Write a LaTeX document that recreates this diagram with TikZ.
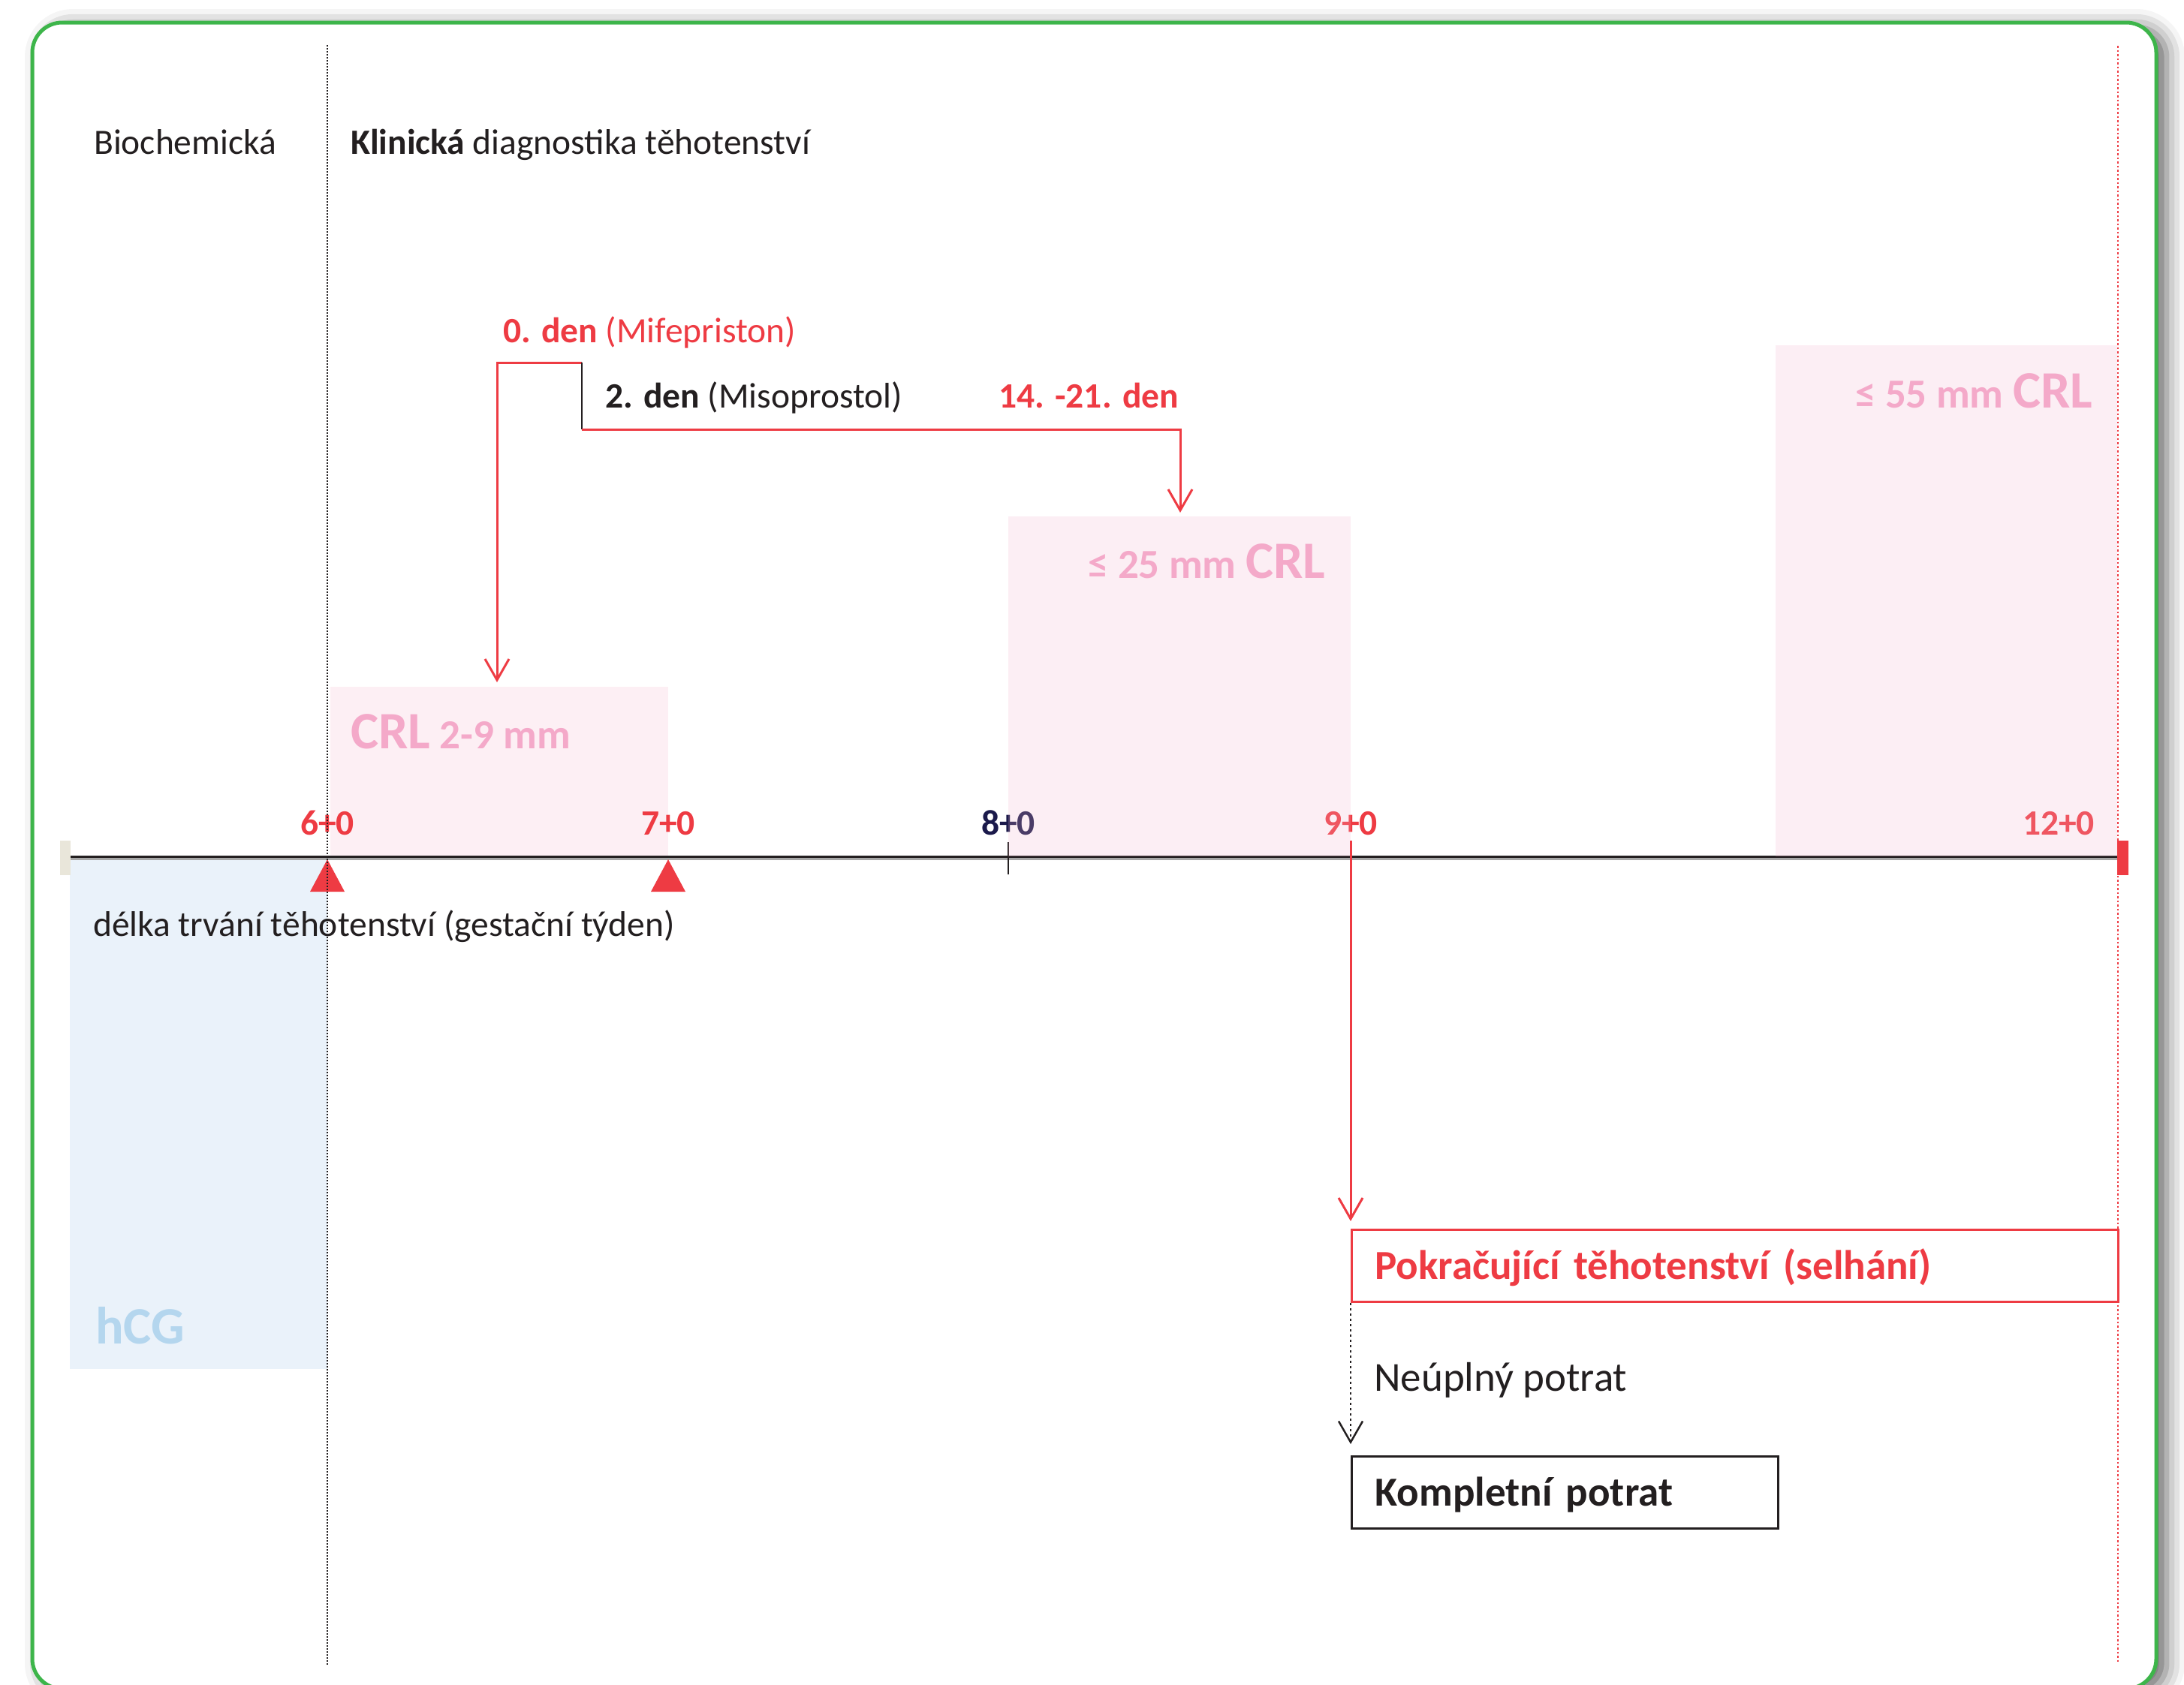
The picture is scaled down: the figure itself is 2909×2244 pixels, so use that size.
\documentclass[tikz,border=0pt]{standalone}
\usepackage{fontspec}
\setmainfont{Carlito}
\usetikzlibrary{arrows.meta,shadows.blur}
\definecolor{myred}{HTML}{EE3B43}
\definecolor{navy}{HTML}{1B1A4B}
\definecolor{txtblack}{HTML}{231F20}
\definecolor{pinkfill}{HTML}{FDEFF4}
\definecolor{pinkover}{RGB}{245,182,205}
\definecolor{pinktext}{HTML}{F4A9C9}
\definecolor{bluefill}{HTML}{EAF2FA}
\definecolor{bluetext}{HTML}{B4D6EE}
\definecolor{mygreen}{HTML}{3DB54A}
\definecolor{beige}{HTML}{E9E6DA}
\newcommand{\fsz}[1]{\fontsize{#1pt}{#1pt}\selectfont}
\tikzset{
  lbl/.style={inner sep=0pt, anchor=base west, text=txtblack, font=\fsz{47.5}},
  ticklbl/.style={inner sep=0pt, anchor=base, font=\bfseries\fsz{47.5}},
  crltext/.style={inner sep=0pt, anchor=base west, text=pinktext, font=\bfseries\fsz{55}},
  redline/.style={draw=myred, line width=3pt},
  redarrow/.style={redline, -{Straight Barb[length=28pt,width=32pt]}},
  pinkover box/.style={fill=pinkover, fill opacity=0.22, draw=none, inner sep=0pt, anchor=north west},
  outcome/.style={line width=3pt, anchor=north west, inner xsep=31pt, inner ysep=0pt,
     minimum height=96pt, text height=35pt, text depth=0pt, font=\bfseries\fsz{55}, align=left}
}
\begin{document}
\begin{tikzpicture}[x=1pt,y=-1pt]
\useasboundingbox (0,0) rectangle (2909,2244);
% frame with shadow
\path[fill=white, rounded corners=40pt,
  blur shadow={shadow xshift=14pt, shadow yshift=-6pt, shadow blur radius=24pt, shadow opacity=60}]
  (43,30) rectangle (2872,2250);
\draw[mygreen, line width=5pt, rounded corners=40pt] (43,30) rectangle (2872,2250);

% background boxes
\node[fill=bluefill, inner sep=0pt, anchor=north west, minimum width=343pt, minimum height=680pt] (hcgbox) at (93,1144) {};
\node[fill=pinkfill, inner sep=0pt, anchor=north west, minimum width=450pt, minimum height=226pt] (crlbox1) at (440,915) {};

% header texts
\node[lbl] (bio) at (125,205) {Biochemická};
\node[lbl] (klin) at (467,205) {\textbf{Klinická} diagnostika těhotenství};

% timeline
\node[fill=beige, inner sep=0pt, anchor=north west, minimum width=14pt, minimum height=46pt] (startbar) at (80,1120) {};
\node[fill=myred, inner sep=0pt, anchor=north west, minimum width=15pt, minimum height=46pt] (endbar) at (2820,1120) {};
\draw[black!35, line width=5pt] (startbar.east |- 0,1143.5) -- (endbar.west |- 0,1143.5);
\draw[txtblack, line width=3pt] (startbar.east |- 0,1141.5) -- (endbar.west |- 0,1141.5);
\draw[txtblack, line width=2.5pt] (1343,1122) -- (1343,1165);
\fill[myred] (436,1145) -- (413,1188) -- (459,1188) -- cycle;
\fill[myred] (890,1145) -- (867,1188) -- (913,1188) -- cycle;

% tick labels
\node[ticklbl, text=myred] (t6) at (436,1112) {6+0};
\node[ticklbl, text=myred] (t7) at (890,1112) {7+0};
\node[ticklbl, text=navy] (t8) at (1343,1112) {8+0};
\node[ticklbl, text=myred] (t9) at (1799,1112) {9+0};
\node[ticklbl, text=myred] (t12) at (2742,1112) {12+0};

\node[lbl] (delka) at (124,1247) {délka trvání těhotenství (gestační týden)};

% translucent pink boxes
\node[pinkover box, minimum width=456pt, minimum height=453pt] (crlbox2) at (1343,688) {};
\node[pinkover box, minimum width=455pt, minimum height=681pt] (crlbox3) at (2365,460) {};

% box texts
\node[crltext] (crl1) at (467,997) {{\fsz{70}CRL} 2-9 mm};
\node[crltext] (crl2) at (1449,770) {≤ 25 mm {\fsz{70}CRL}};
\node[crltext] (crl3) at (2471,543) {≤ 55 mm {\fsz{70}CRL}};
\node[inner sep=0pt, anchor=base west, text=bluetext, font=\bfseries\fsz{70}] (hcg) at (127,1790) {hCG};

% dotted verticals
\draw[txtblack, line width=2.2pt, dash pattern=on 2pt off 2pt] (436,60) -- (436,2218);
\draw[myred, line width=2.5pt, dash pattern=on 2.5pt off 3pt] (2821,61) -- (2821,2216);

% dosing labels
\node[lbl, text=myred] (d0) at (670,456) {\textbf{0. den} (Mifepriston)};
\node[lbl] (d2) at (806,543) {\textbf{2. den} (Misoprostol)};
\node[lbl, text=myred, font=\bfseries\fsz{47.5}] (d14) at (1330,543) {14. -21. den};

% bracket and arrows
\coordinate (b0) at (662,483);
\coordinate (b2) at (775,483);
\coordinate (b2low) at (775,572);
\coordinate (tip0) at (662,909);
\coordinate (tip14) at (1572,683);
\draw[redarrow] (b2) -- (b0) -- (tip0);
\draw[txtblack, line width=2.5pt] (b2) -- (b2low);
\draw[redarrow] (b2low) -- (b2low -| tip14) -- (tip14);

% outcome boxes
\node[outcome, draw=myred, text=myred, text width=959pt] (pok) at (1799,1637) {Pokračující těhotenství (selhání)};
\node[outcome, draw=txtblack, text=txtblack, text width=506pt] (kom) at (1799,1939) {Kompletní potrat};
\node[lbl, font=\fsz{55}] (neu) at (1830,1853) {Neúplný potrat};

\coordinate (t9base) at (1799,1120);
\draw[redarrow] (t9base) -- ([yshift=10pt]pok.north west);
\draw[txtblack, line width=2.5pt, dash pattern=on 3pt off 4pt, -{Straight Barb[length=28pt,width=32pt]}]
  (pok.south west) -- ([yshift=15pt]kom.north west);
\end{tikzpicture}
\end{document}
